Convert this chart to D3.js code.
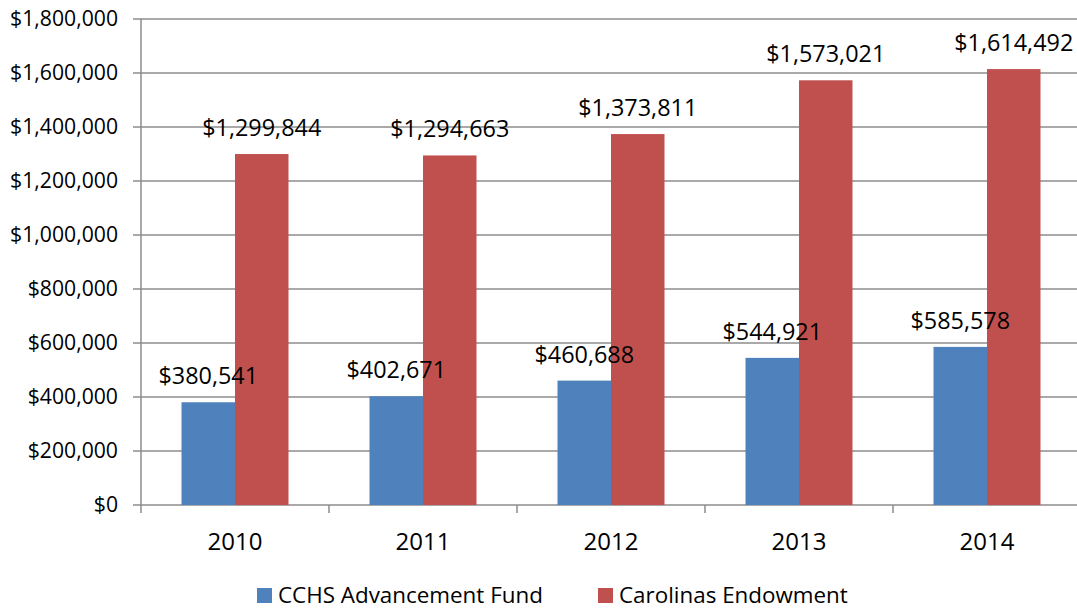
<!DOCTYPE html>
<html>
<head>
  <meta charset="utf-8">
  <style>
    body { margin: 0; background: #fff; }
    svg { display: block; background: #fff; }
    text { font-family: "Open Sans", sans-serif; fill: #000; }
    .grid line { stroke: #8c8c8c; stroke-width: 1.5px; }
  </style>
</head>
<body>
  <div id="chart"></div>
  <script src="https://cdn.jsdelivr.net/npm/d3@7"></script>
  <script>
    var years = ["2010", "2011", "2012", "2013", "2014"];
    var seriesNames = ["CCHS Advancement Fund", "Carolinas Endowment"];
    var advancementFund = [380541, 402671, 460688, 544921, 585578];
    var endowment = [1299844, 1294663, 1373811, 1573021, 1614492];
    var yTicks = [0, 200000, 400000, 600000, 800000, 1000000, 1200000, 1400000, 1600000, 1800000];
    var colors = ["#4f81bd", "#c0504d"];

    var width = 1077, height = 610;
    var plotLeft = 141, plotRight = 1081, plotTop = 19, plotBottom = 505;

    var svg = d3.select("#chart").append("svg")
      .attr("width", width)
      .attr("height", height);

    var x0 = d3.scaleBand().domain(years).range([plotLeft, plotRight]).padding(0);
    var x1 = d3.scaleBand().domain(seriesNames)
      .range([0, x0.bandwidth()])
      .paddingInner(0)
      .paddingOuter(0.757);
    var y = d3.scaleLinear().domain([0, 1800000]).range([plotBottom, plotTop]);

    var money = function(v) { return "$" + d3.format(",")(v); };

    // gridlines + left ticks
    var grid = svg.append("g").attr("class", "grid");
    grid.selectAll("line.h")
      .data(yTicks)
      .enter().append("line")
      .attr("class", "h")
      .attr("x1", plotLeft - 8)
      .attr("x2", width)
      .attr("y1", function(d) { return y(d); })
      .attr("y2", function(d) { return y(d); });

    // vertical axis line
    grid.append("line")
      .attr("x1", plotLeft).attr("x2", plotLeft)
      .attr("y1", plotTop).attr("y2", plotBottom + 8);

    // category ticks
    grid.selectAll("line.t")
      .data(years.slice(1))
      .enter().append("line")
      .attr("class", "t")
      .attr("x1", function(d) { return x0(d); })
      .attr("x2", function(d) { return x0(d); })
      .attr("y1", plotBottom)
      .attr("y2", plotBottom + 8);

    svg.append("g").selectAll("text")
      .data(yTicks)
      .enter().append("text")
      .attr("x", 118)
      .attr("y", function(d) { return y(d); })
      .attr("dy", "0.35em")
      .attr("text-anchor", "end")
      .style("font-size", "21.2px")
      .text(money);

    svg.append("g").selectAll("text")
      .data(years)
      .enter().append("text")
      .attr("x", function(d) { return x0(d) + x0.bandwidth() / 2; })
      .attr("y", 550)
      .attr("text-anchor", "middle")
      .style("font-size", "24px")
      .text(function(d) { return d; });

    var rows = [];
    years.forEach(function(yr, i) {
      rows.push({ year: yr, s: 0, v: advancementFund[i] });
      rows.push({ year: yr, s: 1, v: endowment[i] });
    });

    svg.append("g").selectAll("rect")
      .data(rows)
      .enter().append("rect")
      .attr("x", function(d) { return x0(d.year) + x1(seriesNames[d.s]); })
      .attr("width", x1.bandwidth())
      .attr("y", function(d) { return y(d.v); })
      .attr("height", function(d) { return plotBottom - y(d.v); })
      .attr("fill", function(d) { return colors[d.s]; });

    svg.append("g").selectAll("text")
      .data(rows)
      .enter().append("text")
      .attr("x", function(d) { return x0(d.year) + x1(seriesNames[d.s]) + x1.bandwidth() / 2; })
      .attr("y", function(d) { return y(d.v) - 18; })
      .attr("text-anchor", "middle")
      .style("font-size", "23.4px")
      .text(function(d) { return money(d.v); });

    // legend
    var legendX = [257, 598];
    var lg = svg.append("g").selectAll("g")
      .data(seriesNames)
      .enter().append("g")
      .attr("transform", function(d, i) { return "translate(" + legendX[i] + ",588)"; });
    lg.append("rect")
      .attr("width", 15).attr("height", 15)
      .attr("fill", function(d, i) { return colors[i]; });
    lg.append("text")
      .attr("x", 21)
      .attr("y", 15)
      .style("font-size", "22.4px")
      .text(function(d) { return d; });
  </script>
</body>
</html>
